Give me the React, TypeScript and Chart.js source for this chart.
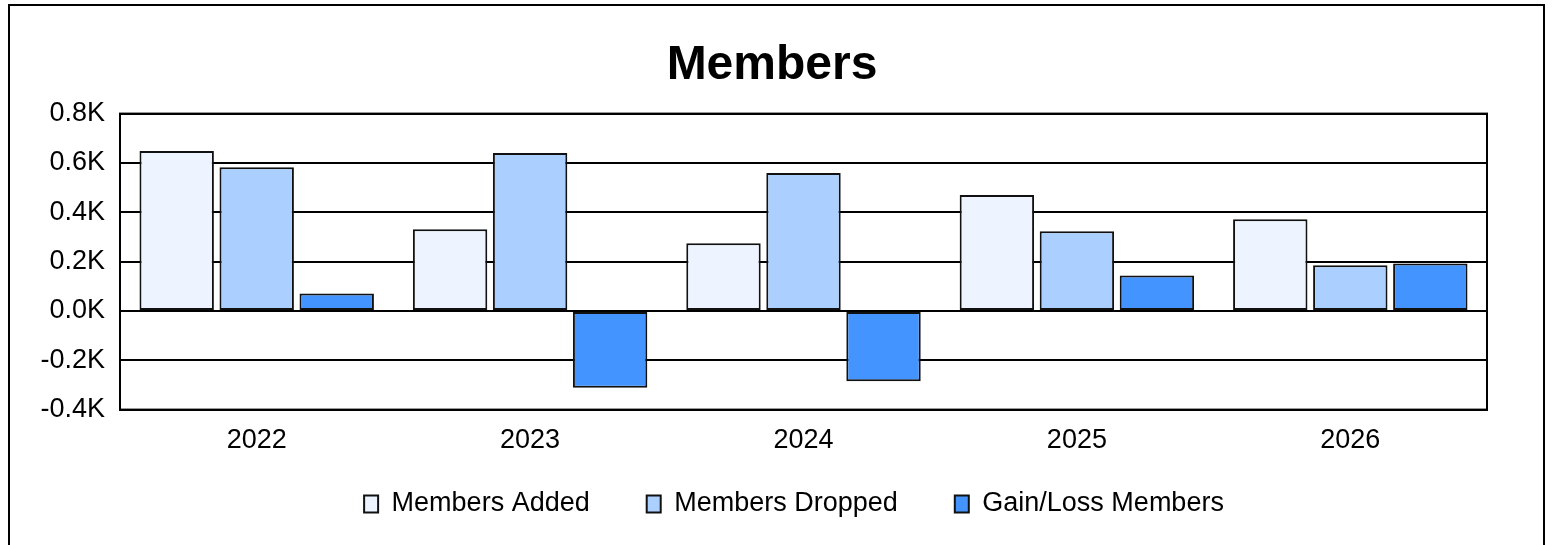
import React, { useEffect, useRef } from "react";
import { Chart, registerables } from "chart.js";

Chart.register(...registerables);

const categories = ["2022", "2023", "2024", "2025", "2026"];
const membersAdded = [648, 331, 274, 470, 372];
const membersDropped = [583, 640, 559, 323, 185];
const gainLoss = [71, -311, -285, 144, 192];
const yTicks = [-400, -200, 0, 200, 400, 600, 800];

const frame = {
  id: "plotFrame",
  afterLayout(chart: any) {
    const t = chart.titleBlock;
    if (t) {
      t.left += 23.5;
      t.right += 23.5;
    }
    const l = chart.legend;
    if (l) {
      l.left += 45.5;
      l.right += 45.5;
      l.top -= 38.5;
      l.bottom -= 38.5;
    }
  },
  afterDatasetsDraw(chart: any) {
    const { ctx, chartArea } = chart;
    ctx.save();
    ctx.strokeStyle = "#000";
    ctx.lineWidth = 2;
    ctx.strokeRect(chartArea.left, chartArea.top, chartArea.right - chartArea.left, chartArea.bottom - chartArea.top);
    ctx.restore();
  },
};

export default function App() {
  const ref = useRef<HTMLCanvasElement>(null);
  useEffect(() => {
    if (!ref.current) return;
    const font = "'Liberation Sans', Arial, sans-serif";
    const chart = new Chart(ref.current, {
      type: "bar",
      data: {
        labels: categories,
        datasets: [
          { label: "Members Added", data: membersAdded, backgroundColor: "#EDF4FF" },
          { label: "Members Dropped", data: membersDropped, backgroundColor: "#ABD0FF" },
          { label: "Gain/Loss Members", data: gainLoss, backgroundColor: "#4494FF" },
        ].map((d) => ({
          ...d,
          borderColor: "#111",
          borderWidth: 2,
          borderSkipped: false as any,
          categoryPercentage: 0.878,
          barPercentage: 0.93,
        })),
      },
      options: {
        animation: false,
        responsive: false,
        maintainAspectRatio: false,
        layout: { padding: { left: 0, right: 55, top: 0, bottom: 0 } },
        plugins: {
          tooltip: { enabled: false },
          title: {
            display: true,
            text: "Members",
            color: "#000",
            font: { family: font, size: 48, weight: "bold" },
            padding: { top: 29.5, bottom: 19.5 },
          },
          legend: {
            position: "bottom",
            labels: {
              color: "#000",
              font: { family: font, size: 27 },
              boxWidth: 14,
              boxHeight: 17,
              padding: 57,
              generateLabels: (chart: any) =>
                chart.data.datasets.map((ds: any, i: number) => ({
                  text: ds.label,
                  fillStyle: ds.backgroundColor,
                  strokeStyle: "#111",
                  lineWidth: 2,
                  datasetIndex: i,
                  hidden: false,
                  fontColor: "#000",
                })),
            },
          },
        },
        scales: {
          x: {
            grid: { display: false, drawTicks: false },
            border: { display: true, color: "#000", width: 2 },
            ticks: { color: "#000", font: { family: font, size: 27 }, padding: 15 },
          },
          y: {
            min: -400,
            max: 800,
            afterFit: (s: any) => {
              s.width = 110;
            },
            afterBuildTicks: (s: any) => {
              s.ticks = yTicks.map((v) => ({ value: v }));
            },
            grid: { color: "#000", lineWidth: 2, drawTicks: false },
            border: { display: true, color: "#000", width: 2 },
            ticks: {
              color: "#000",
              font: { family: font, size: 27 },
              padding: 15,
              callback: (v: any) => (Number(v) / 1000).toFixed(1) + "K",
            },
          },
        },
      },
      plugins: [frame],
    });
    return () => chart.destroy();
  }, []);

  return (
    <div
      style={{
        position: "fixed",
        left: 8,
        top: 4,
        width: 1537,
        height: 600,
        border: "2px solid #000",
        boxSizing: "border-box",
        background: "#fff",
        overflow: "hidden",
      }}
    >
      <canvas ref={ref} width={1532} height={559} style={{ display: "block", position: "absolute", left: 0, top: 1 }} />
    </div>
  );
}
